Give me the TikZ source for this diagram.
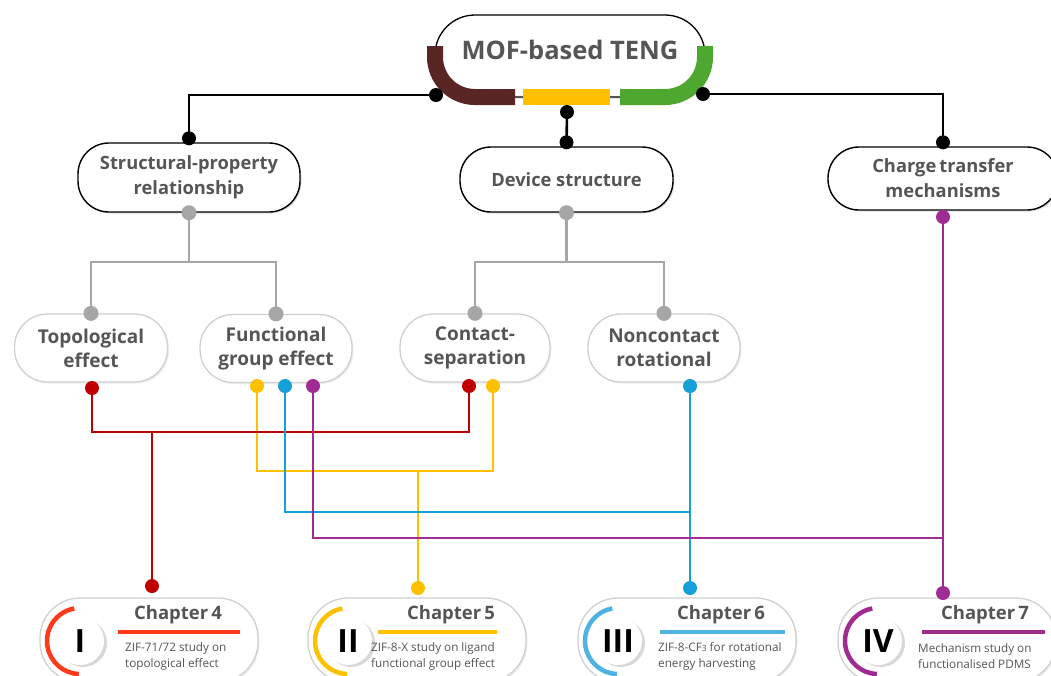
\documentclass[tikz,border=0pt]{standalone}
\usepackage{fontspec}
\setmainfont{Open Sans}
\usetikzlibrary{shadows,calc}
\definecolor{txt}{HTML}{555555}
\definecolor{gline}{HTML}{A6A6A6}
\definecolor{cred}{HTML}{C00000}
\definecolor{cyel}{HTML}{FFC000}
\definecolor{cblu}{HTML}{16A0D8}
\definecolor{cpur}{HTML}{A02B93}
\definecolor{brn}{HTML}{5A2525}
\definecolor{grn}{HTML}{4EA72E}
\definecolor{ora}{HTML}{FF3A1A}
\definecolor{lblu}{HTML}{4EB3E3}
\definecolor{lgr}{HTML}{D0D0D0}
% #1 num, #2 left x, #3 numeral, #4 colour, #5 title x, #6 line x1, #7 line x2, #8 desc x, #9 desc
\newcommand\ChapBox[9]{%
  \node[chbox] (ch#1) at (#2+109,640) {};
  \node[numc] (n#1) at (#2+40,641) {#3};
  \draw[#4, line width=4.5pt] (n#1.center) ++(-100:33) arc[start angle=-100, end angle=-268, radius=33];
  \node[chtitle] (t#1) at (#5,615) {Chapter\,#1};
  \draw[#4, line width=3.5pt] (#6,632) -- (#7,632);
  \node[desc] (d#1) at (#8,656) {#9};
}
\begin{document}
\begin{tikzpicture}[x=1pt,y=-1pt,
  blk/.style={draw=black, line width=2.6pt},
  gry/.style={draw=gline, line width=2.8pt},
  col/.style={draw=#1, line width=2.6pt},
  lvltwo/.style={draw=black, line width=1.4pt, fill=white, rounded corners=31pt,
    align=center, font=\fontsize{18.3}{25}\selectfont\bfseries, text=txt,
    drop shadow={shadow xshift=1.5pt, shadow yshift=-1.5pt, opacity=0.25}},
  lvlthree/.style={draw=lgr, line width=1.3pt, fill=white, rounded corners=33pt,
    minimum width=152pt, minimum height=68pt,
    align=center, font=\fontsize{19}{24}\selectfont\bfseries, text=txt,
    drop shadow={shadow xshift=1.5pt, shadow yshift=-1.5pt, opacity=0.15}},
  chbox/.style={draw=lgr, line width=1.3pt, fill=white, rounded corners=40pt,
    minimum width=218pt, minimum height=84pt,
    drop shadow={shadow xshift=1.5pt, shadow yshift=-1.5pt, opacity=0.15}},
  numc/.style={circle, fill=white, minimum size=48pt, inner sep=0pt,
    font=\fontsize{32}{32}\selectfont\bfseries, text=black,
    drop shadow={shadow xshift=3pt, shadow yshift=-2pt, opacity=0.3}},
  chtitle/.style={font=\fontsize{18.5}{22}\selectfont\bfseries, text=txt, inner sep=0pt},
  desc/.style={anchor=west, align=left, font=\fontsize{11.7}{16}\selectfont, text=txt, inner sep=0pt},
]
\useasboundingbox (0,0) rectangle (1051,675);

% top node
\node[draw=black, line width=1.3pt, fill=white, rounded corners=40pt,
  minimum width=270pt, minimum height=82pt,
  drop shadow={shadow xshift=1.5pt, shadow yshift=-1.5pt, opacity=0.25}] (mof) at (570,56) {};
\node[font=\fontsize{25.5}{28}\selectfont\bfseries, text=txt] (moft) at (570,50) {MOF-based TENG};
\draw[brn, line width=16pt] (435,46) -- (435,57) arc[start angle=180, end angle=90, radius=40] -- (515,97);
\draw[cyel, line width=16pt] (523,97) -- (610,97);
\draw[grn, line width=16pt] (620,97) -- (665,97) arc[start angle=90, end angle=0, radius=40] -- (705,46);

\coordinate (mL) at (436,95);
\coordinate (mR) at (703,94);
\coordinate (mB) at (567,112);

% level 2
\node[lvltwo, minimum width=222pt, minimum height=69pt] (struct) at (189,177.5) {Structural-property\\relationship};
\node[lvltwo, minimum width=213pt, minimum height=65pt] (dev) at (566.5,179.5) {Device structure};
\node[lvltwo, minimum width=230pt, minimum height=63pt] (charge) at (943,178.5) {Charge\,transfer\\mechanisms};

% level 3
\node[lvlthree, minimum width=153pt] (topo) at (91,348) {Topological\\effect};
\node[lvlthree] (func) at (276,348.5) {Functional\\group effect};
\node[lvlthree, minimum width=150pt] (cont) at (475,348) {Contact-\\separation};
\node[lvlthree] (nonc) at (664,348) {Noncontact\\rotational};

% black connectors
\draw[blk] (mL) -| (struct.north);
\draw[blk] (mR) -| (charge.north);
\draw[blk] (mB) -- (dev.north);
\foreach \p in {mL, mR, mB} \fill (\p) circle (7);
\fill ($(struct.north)+(0,-4)$) circle (7);
\fill ($(charge.north)+(0,-4)$) circle (7);
\fill ($(dev.north)+(0,-4)$) circle (7);

% gray connectors
\coordinate (sj) at (189,262);
\coordinate (dj) at (566.5,262);
\draw[gry] (struct.south) -- (sj);
\draw[gry] (topo.north) |- (sj) -| (func.north);
\draw[gry] (dev.south) -- (dj);
\draw[gry] (cont.north) |- (dj) -| (nonc.north);
\foreach \p in {struct.south, dev.south, topo.north, func.north, cont.north, nonc.north}
  \fill[gline] (\p) circle (7.5);

% chapter boxes
\ChapBox{4}{40}{I}{ora}{178}{118}{240}{125}{ZIF-71/72 study on\\topological effect}
\ChapBox{5}{308}{II}{cyel}{451}{378}{497}{371}{ZIF-8-X study on ligand\\functional group effect}
\ChapBox{6}{578}{III}{lblu}{721}{660}{785}{658}{ZIF-8-CF{\fontsize{8.5}{8}\selectfont 3} for rotational\\energy harvesting}
\ChapBox{7}{838}{IV}{cpur}{985}{922}{1045}{918}{Mechanism study on\\functionalised PDMS}

% coloured connector end points
\coordinate (tR) at (92,388);
\coordinate (fY) at (257,386);
\coordinate (fB) at (285,386);
\coordinate (fP) at (313,386);
\coordinate (cR) at (469,386);
\coordinate (cY) at (493,386);
\coordinate (nB) at (690,386);
\coordinate (gP) at (943,217);
\coordinate (rj) at (152,432);
\coordinate (yj) at (418,471);
\coordinate (bj) at (690,512);
\coordinate (pj) at (943,538);
\coordinate (e4) at (152,586);
\coordinate (e5) at (418,588);
\coordinate (e6) at (690,588);
\coordinate (e7) at (943,593);

\draw[col=cyel] (fY) |- (yj) -| (cY);
\draw[col=cyel] (yj) -- (e5);
\draw[col=cred] (tR) |- (rj) -| (cR);
\draw[col=cred] (rj) -- (e4);
\draw[col=cblu] (fB) |- (bj);
\draw[col=cblu] (nB) -- (e6);
\draw[col=cpur] (fP) |- (pj);
\draw[col=cpur] (gP) -- (e7);

\foreach \p/\c in {tR/cred, cR/cred, e4/cred, fY/cyel, cY/cyel, e5/cyel, fB/cblu, nB/cblu, e6/cblu, fP/cpur, gP/cpur, e7/cpur}
  \fill[\c] (\p) circle (7);
\end{tikzpicture}
\end{document}
